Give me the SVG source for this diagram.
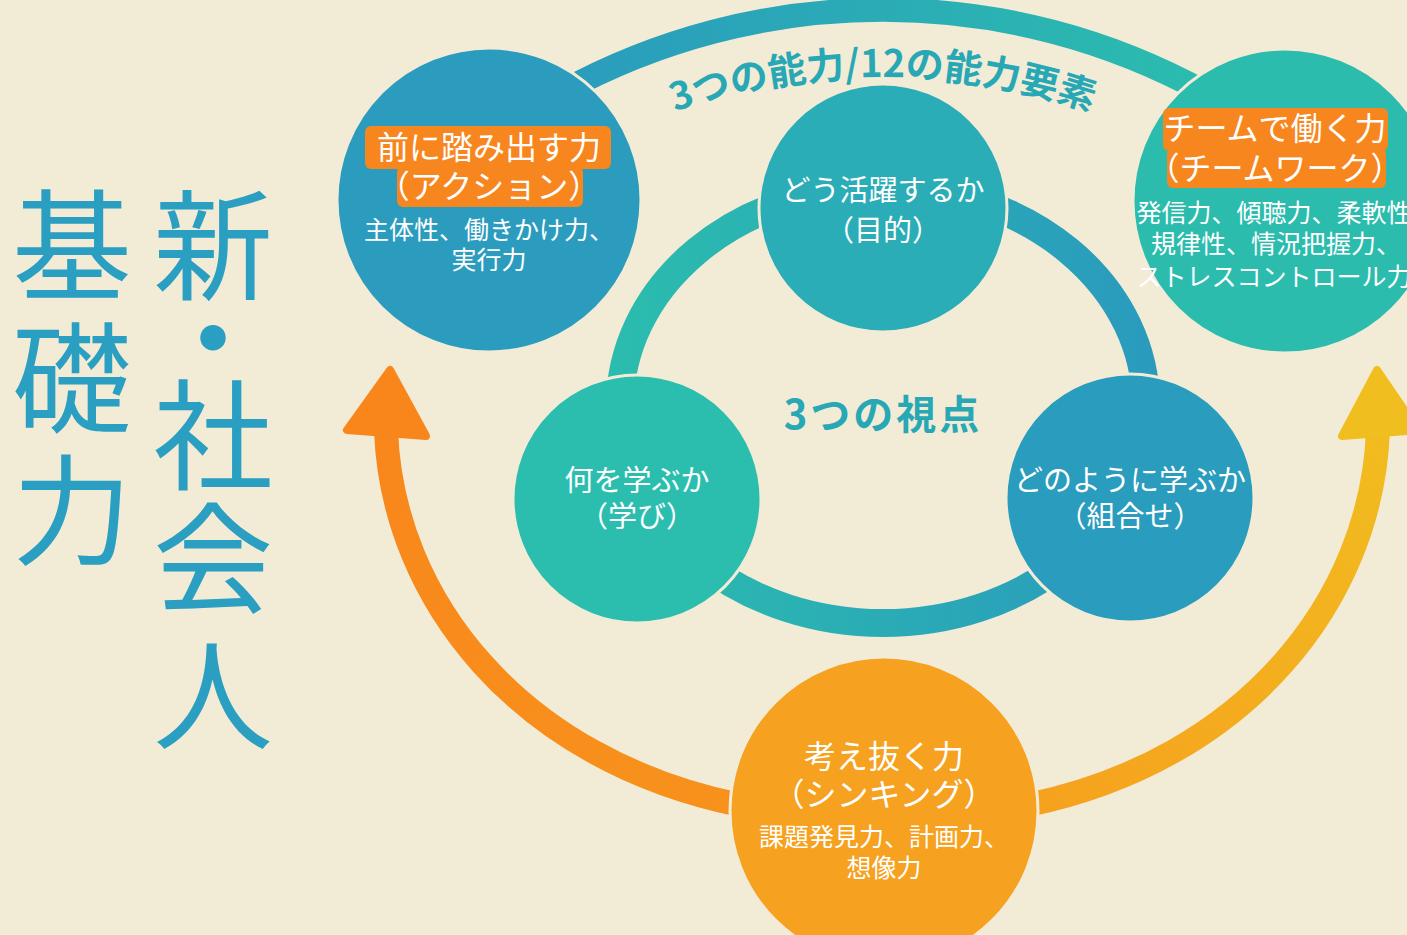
<svg xmlns="http://www.w3.org/2000/svg" width="1407" height="935" viewBox="0 0 1407 935">
<defs>
<style>
.t{font-family:"Noto Sans CJK JP","Noto Sans",sans-serif;fill:#ffffff;text-anchor:middle}
.h{font-size:32px}
.s{font-size:25px}
.m{font-size:29px}
.title{font-family:"Noto Sans CJK JP",serif;fill:#2a9fc1;font-size:120px;text-anchor:middle}
.lbl{font-family:"Noto Sans CJK JP","Noto Sans",sans-serif;fill:#28a8b5;font-weight:700;text-anchor:middle}
.edge{stroke:#f2ecd7;stroke-width:3}
.box{fill:#f7861f}
</style>
<linearGradient id="gRing" gradientUnits="userSpaceOnUse" x1="620" y1="0" x2="1146" y2="0">
<stop offset="0" stop-color="#2bbcae"/><stop offset="1" stop-color="#2a9bbd"/>
</linearGradient>
<linearGradient id="gArc" gradientUnits="userSpaceOnUse" x1="560" y1="0" x2="1206" y2="0">
<stop offset="0" stop-color="#2a9cbd"/><stop offset="1" stop-color="#2bbcae"/>
</linearGradient>
<linearGradient id="gRight" gradientUnits="userSpaceOnUse" x1="1030" y1="810" x2="1378" y2="380">
<stop offset="0" stop-color="#f6a11e"/><stop offset="1" stop-color="#f1be1f"/>
</linearGradient>
<linearGradient id="gLeft" gradientUnits="userSpaceOnUse" x1="740" y1="810" x2="390" y2="380">
<stop offset="0" stop-color="#f7921c"/><stop offset="1" stop-color="#f9861b"/>
</linearGradient>
<path id="arcText" d="M 238 722 A 645 645 0 0 1 1528 722"/>
</defs>
<rect width="1407" height="935" fill="#f2ecd7"/>

<g id="title">
<text class="title" x="213 213 213 213 213" y="291 384 481 604 741">新・社会人</text>
<text class="title" x="72 72 72" y="291 424 556">基礎力</text>
</g>

<g id="connectors" fill="none">
<path d="M 560 93 A 669 669 0 0 1 1206 93" stroke="url(#gArc)" stroke-width="24"/>
<ellipse cx="883" cy="405" rx="263" ry="218" stroke="url(#gRing)" stroke-width="28"/>
<path d="M 386 430 C 392 600 520 760 740 805" stroke="url(#gLeft)" stroke-width="24"/>
<polygon points="390,370 347,430 426,436" fill="#f9861b" stroke="#f9861b" stroke-width="8" stroke-linejoin="round"/>
<path d="M 1378 430 C 1372 600 1245 760 1028 805" stroke="url(#gRight)" stroke-width="24"/>
<polygon points="1377,370 1342,436 1418,430" fill="#f1be1f" stroke="#f1be1f" stroke-width="8" stroke-linejoin="round"/>
</g>

<text class="lbl" font-size="38"><textPath href="#arcText" startOffset="50%">3つの能力/12の能力要素</textPath></text>

<g id="action">
<circle class="edge" cx="489" cy="200" r="152" fill="#2b9cbe"/>
<rect class="box" x="365" y="126" width="246" height="43" rx="6"/>
<rect class="box" x="397" y="166" width="186" height="41" rx="6"/>
<text class="t"><tspan class="h" x="489" y="159">前に踏み出す力</tspan><tspan class="h" x="489" y="198">（アクション）</tspan><tspan class="s" x="489" y="239">主体性、働きかけ力、</tspan><tspan class="s" x="489" y="269">実行力</tspan></text>
</g>

<g id="teamwork">
<circle class="edge" cx="1285" cy="201" r="152" fill="#2bbcae"/>
<rect class="box" x="1163" y="108" width="225" height="43" rx="6"/>
<rect class="box" x="1167" y="148" width="219" height="40" rx="6"/>
<text class="t"><tspan class="h" x="1275" y="140">チームで働く力</tspan><tspan class="h" x="1275" y="180">（チームワーク）</tspan><tspan class="s" x="1274" y="222">発信力、傾聴力、柔軟性</tspan><tspan class="s" x="1276" y="253">規律性、情況把握力、</tspan><tspan class="s" x="1274" y="286">ストレスコントロール力</tspan></text>
</g>

<g id="thinking">
<circle class="edge" cx="884" cy="811" r="154" fill="#f6a11f"/>
<text class="t"><tspan class="h" x="884" y="768">考え抜く力</tspan><tspan class="h" x="884" y="806">（シンキング）</tspan><tspan class="s" x="884" y="846">課題発見力、計画力、</tspan><tspan class="s" x="884" y="877">想像力</tspan></text>
</g>

<g id="purpose">
<circle class="edge" cx="883" cy="208" r="124" fill="#2aadb6"/>
<text class="t m"><tspan x="883" y="201">どう活躍するか</tspan><tspan x="883" y="241">（目的）</tspan></text>
</g>

<g id="learning">
<circle class="edge" cx="637" cy="499" r="124" fill="#2bbeaf"/>
<text class="t m"><tspan x="637" y="491">何を学ぶか</tspan><tspan x="637" y="527">（学び）</tspan></text>
</g>

<g id="combination">
<circle class="edge" cx="1130" cy="498" r="124" fill="#2a9cbd"/>
<text class="t m"><tspan x="1130" y="491">どのように学ぶか</tspan><tspan x="1130" y="527">（組合せ）</tspan></text>
</g>

<text class="lbl" font-size="40" letter-spacing="3" x="883" y="429">3つの視点</text>
</svg>
